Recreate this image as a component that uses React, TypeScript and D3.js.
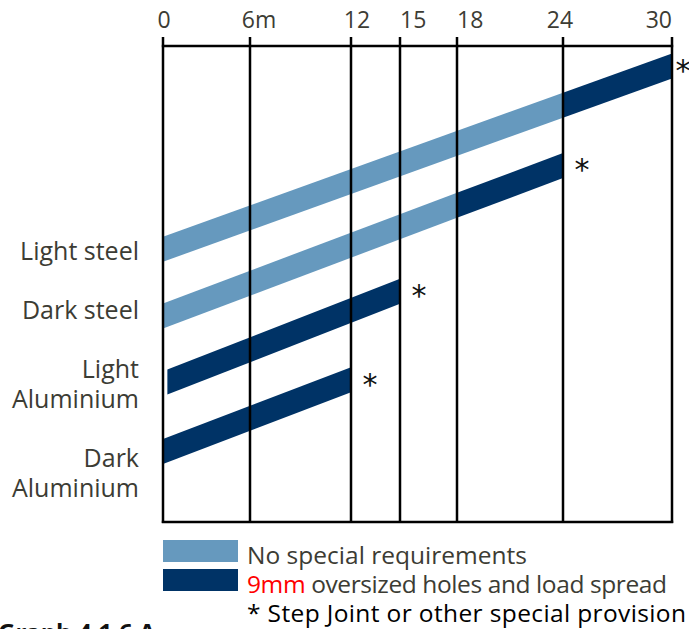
import { useRef, useEffect } from "react";
import * as d3 from 'd3';

// span (m) along the top axis
const spanTicks = [0, 6, 12, 15, 18, 24, 30];
const spanTickLabels = ["0", "6m", "12", "15", "18", "24", "30"];

// rows, top to bottom
const categories = [["Light steel"], ["Dark steel"], ["Light", "Aluminium"], ["Dark", "Aluminium"]];
const spanStart = [0, 0, 0.3, 0];
const noSpecialTo = [24, 18, 0.3, 0];
const maxSpan = [30, 24, 15, 12];
// relative level of the band at its start and end (0-100)
const levelStart = [57.3, 43.3, 29.4, 14.8];
const levelEnd = [95.8, 74.9, 48.5, 29.9];

const legendLabels = ["No special requirements", "oversized holes and load spread", "* Step Joint or other special provision"];

const W = 689, H = 629;
const LIGHT = '#6699be', DARK = '#003366', TEXT = '#3c3c34';
const FONT = '"Open Sans", sans-serif';

function App() {
    const ref = useRef<SVGSVGElement>(null);

    useEffect(() => {
        const svg = d3.select(ref.current);
        svg.selectAll('*').remove();

        const top = 46, bottom = 522;
        // the printed axis is not evenly spaced
        const tickPx = [163, 250, 351, 400, 457, 563, 672];
        const x = d3.scaleLinear().domain(spanTicks).range(tickPx);
        const y = d3.scaleLinear().domain([0, 100]).range([bottom, top]);
        const thick = 25;

        // bands
        categories.forEach((_, i) => {
            const px0 = x(spanStart[i]), px1 = x(maxSpan[i]);
            const y0 = y(levelStart[i]), y1 = y(levelEnd[i]);
            const cy = (p: number) => y0 + (y1 - y0) * (p - px0) / (px1 - px0);
            const area = d3.area<number>()
                .x(p => p)
                .y0(p => cy(p) + thick / 2)
                .y1(p => cy(p) - thick / 2);

            const segs: [number, number, string][] = [];
            if (noSpecialTo[i] > spanStart[i]) segs.push([spanStart[i], noSpecialTo[i], LIGHT]);
            segs.push([Math.max(spanStart[i], noSpecialTo[i]), maxSpan[i], DARK]);
            segs.forEach(([a, b, c]) => {
                svg.append('path')
                    .attr('d', area([x(a), x(b)]))
                    .attr('fill', c);
            });

            // step joint mark
            svg.append('text')
                .attr('x', Math.min(px1 + 19, W - 6))
                .attr('y', y1 + 15)
                .attr('text-anchor', 'middle')
                .attr('font-family', '"DejaVu Sans", sans-serif')
                .attr('font-size', 30)
                .attr('fill', '#111')
                .text('*');
        });

        // grid lines and frame
        spanTicks.forEach(t => {
            svg.append('line')
                .attr('x1', x(t)).attr('x2', x(t))
                .attr('y1', top - 9).attr('y2', bottom + 1)
                .attr('stroke', '#000').attr('stroke-width', 2.5);
        });
        [top, bottom].forEach(yy => {
            svg.append('line')
                .attr('x1', x(0) - 1.2).attr('x2', x(30) + 1.2)
                .attr('y1', yy).attr('y2', yy)
                .attr('stroke', '#000').attr('stroke-width', 2.5);
        });

        // top axis labels
        const anchor = ['middle', 'middle', 'middle', 'start', 'start', 'middle', 'end'];
        const dx = [1, 9, 6, 0, 0, -3, 0];
        spanTicks.forEach((t, i) => {
            svg.append('text')
                .attr('x', x(t) + dx[i])
                .attr('y', 28)
                .attr('text-anchor', anchor[i])
                .attr('font-family', FONT)
                .attr('font-size', 23)
                .attr('fill', TEXT)
                .text(spanTickLabels[i]);
        });

        // row labels
        const labelCenters = [252, 311, 385, 474];
        categories.forEach((lines, i) => {
            lines.forEach((l, j) => {
                svg.append('text')
                    .attr('x', 139)
                    .attr('y', labelCenters[i] + 8 + (j - (lines.length - 1) / 2) * 29.5)
                    .attr('text-anchor', 'end')
                    .attr('font-family', FONT)
                    .attr('font-size', 25)
                    .attr('fill', TEXT)
                    .text(l);
            });
        });

        // legend
        [LIGHT, DARK].forEach((c, i) => {
            svg.append('rect')
                .attr('x', 163).attr('y', 540 + i * 29)
                .attr('width', 75).attr('height', 22)
                .attr('fill', c);
        });
        const legendWidth = [280, 420, 439];
        legendLabels.forEach((l, i) => {
            const t = svg.append('text')
                .attr('x', 247).attr('y', 564 + i * 29)
                .attr('font-family', FONT)
                .attr('font-size', 24.5)
                .attr('textLength', legendWidth[i])
                .attr('lengthAdjust', 'spacing')
                .attr('fill', i == 2 ? '#000' : TEXT);
            if (i == 1) t.append('tspan').attr('fill', '#ff0000').text('9mm ');
            t.append('tspan').text(l);
        });

        svg.append('text')
            .attr('x', -2).attr('y', 641)
            .attr('font-family', FONT)
            .attr('font-weight', 'bold')
            .attr('font-size', 24)
            .attr('fill', '#111')
            .text('Graph 4.1.6 A');
    }, []);

    return (
        <svg ref={ref} width={W} height={H}
            style={{ position: 'absolute', left: 0, top: 0, background: '#fff' }}>
        </svg>
    );
}

export default App;
